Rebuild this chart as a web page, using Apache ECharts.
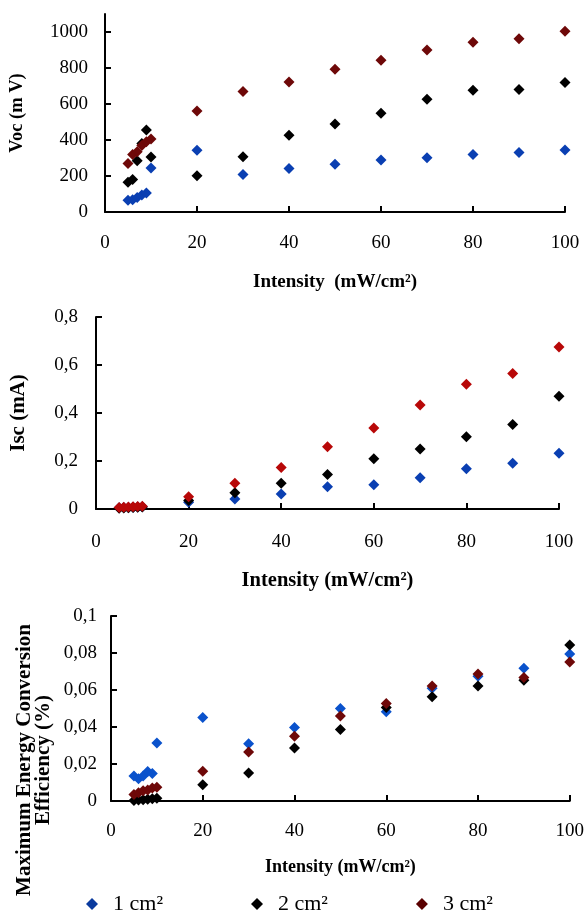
<!DOCTYPE html>
<html>
<head>
<meta charset="utf-8">
<script src="https://cdn.jsdelivr.net/npm/echarts@6/dist/echarts.min.js"></script>
<style>
  html, body { margin: 0; padding: 0; background: #fff; }
  #chart { width: 587px; height: 914px; }
</style>
</head>
<body>
<div id="chart"></div>
<script>
// Light intensity (mW/cm²) shared by all three panels
const intensity = [5, 6, 7, 8, 9, 10, 20, 30, 40, 50, 60, 70, 80, 90, 100];
const seriesNames = ['1 cm²', '2 cm²', '3 cm²'];

// Open-circuit voltage (mV)
const voc1 = [65, 68, 80, 95, 105, 245, 343, 209, 241, 265, 289, 302, 319, 331, 344];
const voc2 = [165, 180, 285, 380, 455, 305, 202, 307, 426, 489, 548, 626, 676, 680, 719];
const voc3 = [270, 320, 335, 370, 390, 405, 561, 669, 722, 793, 843, 900, 943, 963, 1004];

// Short-circuit current (mA)
const isc1 = [0.005, 0.006, 0.006, 0.007, 0.008, 0.009, 0.028, 0.042, 0.062, 0.093, 0.101, 0.130, 0.168, 0.191, 0.232];
const isc2 = [0.003, 0.004, 0.005, 0.006, 0.007, 0.008, 0.035, 0.068, 0.107, 0.144, 0.209, 0.250, 0.301, 0.352, 0.470];
const isc3 = [0.006, 0.007, 0.008, 0.009, 0.010, 0.011, 0.051, 0.107, 0.173, 0.259, 0.338, 0.433, 0.520, 0.565, 0.675];

// Maximum energy conversion efficiency (%)
const eff1 = [0.0135, 0.0120, 0.0135, 0.0160, 0.0148, 0.0314, 0.0451, 0.0310, 0.0397, 0.0500, 0.0482, 0.0610, 0.0675, 0.0717, 0.0794];
const eff2 = [0.0003, 0.0005, 0.0007, 0.0010, 0.0012, 0.0015, 0.0088, 0.0152, 0.0287, 0.0386, 0.0505, 0.0563, 0.0621, 0.0653, 0.0843];
const eff3 = [0.0035, 0.0045, 0.0055, 0.0060, 0.0070, 0.0075, 0.0161, 0.0265, 0.0350, 0.0460, 0.0527, 0.0621, 0.0686, 0.0668, 0.0751];

// Tick values
const xTicks = [0, 20, 40, 60, 80, 100];
const vocTicks = [0, 200, 400, 600, 800, 1000];
const iscTicks = [0, 0.2, 0.4, 0.6, 0.8];
const effTicks = [0, 0.02, 0.04, 0.06, 0.08, 0.1];

const SERIF = '"Liberation Serif", "Times New Roman", serif';
const commaFmt = v => (v === 0 ? '0' : String(+v.toFixed(3)).replace('.', ','));

function xAxisFor(gridIndex, name, nameSize, nameGap, labelMargin) {
  return {
    type: 'value', gridIndex, min: 0, max: 100, interval: 20,
    name, nameLocation: 'middle', nameGap,
    nameTextStyle: { fontFamily: SERIF, fontWeight: 'bold', fontSize: nameSize, color: '#000' },
    axisLine: { lineStyle: { color: '#000', width: 2 } },
    axisTick: { inside: true, length: 6, lineStyle: { color: '#000', width: 2 }, customValues: xTicks },
    axisLabel: { fontFamily: SERIF, fontSize: 19, color: '#000', margin: labelMargin, customValues: xTicks },
    splitLine: { show: false }
  };
}

function yAxisFor(gridIndex, max, ticks, fmt, name, nameSize, nameGap, labelMargin) {
  return {
    type: 'value', gridIndex, min: 0, max,
    name, nameLocation: 'middle', nameGap, nameRotate: 90,
    nameTextStyle: { fontFamily: SERIF, fontWeight: 'bold', fontSize: nameSize, color: '#000' },
    axisLine: { show: true, lineStyle: { color: '#000', width: 2 } },
    axisTick: { show: true, inside: true, length: 6, lineStyle: { color: '#000', width: 2 }, customValues: ticks },
    axisLabel: { fontFamily: SERIF, fontSize: 19, color: '#000', margin: labelMargin, formatter: fmt, customValues: ticks },
    splitLine: { show: false }
  };
}

function scatter(name, gridIdx, values, color) {
  return {
    type: 'scatter', name, xAxisIndex: gridIdx, yAxisIndex: gridIdx,
    symbol: 'diamond', symbolSize: 11,
    itemStyle: { color, opacity: 1 },
    data: intensity.map((x, i) => [x, values[i]])
  };
}

const BLUE = '#0a3fb2', BLACK = '#000000', MAROON = '#6e0808';

const option = {
  backgroundColor: '#fff',
  animation: false,
  grid: [
    { left: 103, top: 14, width: 462, height: 198 },
    { left: 92, top: 317, width: 467, height: 192 },
    { left: 111, top: 616, width: 460, height: 185 }
  ],
  xAxis: [
    xAxisFor(0, 'Intensity  (mW/cm²)', 19, 61, 22),
    xAxisFor(1, 'Intensity (mW/cm²)', 20.5, 61, 24),
    xAxisFor(2, 'Intensity (mW/cm²)', 18, 57, 21)
  ],
  yAxis: [
    yAxisFor(0, 1100, vocTicks, v => String(v), 'Voc (m V)', 18.5, 78, 17),
    yAxisFor(1, 0.8, iscTicks, commaFmt, 'Isc (mA)', 21, 67, 18),
    yAxisFor(2, 0.1, effTicks, commaFmt, '', 18, 0, 14)
  ],
  legend: {
    data: [
      { name: seriesNames[0], itemStyle: { color: '#0a3a9e' } },
      { name: seriesNames[1], itemStyle: { color: '#000' } },
      { name: seriesNames[2], itemStyle: { color: '#5a0000' } }
    ],
    icon: 'diamond', itemWidth: 12, itemHeight: 12, itemGap: 88,
    left: 81, top: 888,
    textStyle: { fontFamily: SERIF, fontSize: 22, color: '#000', padding: [0, 0, 0, 10] }
  },
  graphic: [
    {
      type: 'text', x: 34, y: 760, rotation: Math.PI / 2,
      style: {
        text: 'Maximum Energy Conversion\nEfficiency (%)',
        fontFamily: SERIF, fontWeight: 'bold', fontSize: 21, lineHeight: 19,
        fill: '#000', align: 'center', verticalAlign: 'middle'
      }
    }
  ],
  series: [
    scatter(seriesNames[0], 0, voc1, BLUE),
    scatter(seriesNames[1], 0, voc2, BLACK),
    scatter(seriesNames[2], 0, voc3, MAROON),
    scatter(seriesNames[0], 1, isc1, BLUE),
    scatter(seriesNames[1], 1, isc2, BLACK),
    scatter(seriesNames[2], 1, isc3, '#b80808'),
    scatter(seriesNames[0], 2, eff1, '#0a52cc'),
    scatter(seriesNames[1], 2, eff2, BLACK),
    scatter(seriesNames[2], 2, eff3, MAROON)
  ]
};

echarts.init(document.getElementById('chart'), null, { renderer: 'canvas' }).setOption(option);
</script>
</body>
</html>
